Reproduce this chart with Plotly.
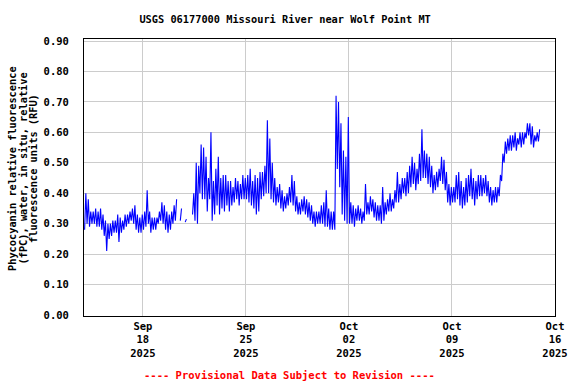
import datetime as dt
import plotly.graph_objects as go

# ---- data: 4-hour bins starting 2025-09-14 00:00, (low, high) per bin, None = no data ----
start = dt.datetime(2025, 9, 14)
bin_hours = 4

lows = [
    # Sep 14
    0.28, 0.30, 0.29, 0.30, 0.30, 0.29,
    # Sep 15
    0.29, 0.28, 0.26, 0.21, 0.25, 0.26,
    # Sep 16
    0.27, 0.27, 0.24, 0.27, 0.28, 0.29,
    # Sep 17
    0.30, 0.31, 0.30, 0.28, 0.27, 0.27,
    # Sep 18
    0.28, 0.29, 0.30, 0.27, 0.28, 0.28,
    # Sep 19
    0.30, 0.31, 0.30, 0.28, 0.27, 0.28,
    # Sep 20
    0.30, 0.31, None, 0.31, None, 0.305,
    # Sep 21
    None, None, 0.33, 0.31, 0.30, 0.40,
    # Sep 22
    0.38, 0.38, 0.34, 0.38, 0.31, 0.33,
    # Sep 23
    0.36, 0.33, 0.35, 0.34, 0.36, 0.34,
    # Sep 24
    0.36, 0.37, 0.38, 0.36, 0.38, 0.38,
    # Sep 25
    0.38, 0.37, 0.36, 0.35, 0.33, 0.34,
    # Sep 26
    0.38, 0.39, 0.40, 0.40, 0.38, 0.37,
    # Sep 27
    0.36, 0.37, 0.35, 0.34, 0.35, 0.36,
    # Sep 28
    0.37, 0.36, 0.34, 0.33, 0.33, 0.34,
    # Sep 29
    0.33, 0.32, 0.31, 0.30, 0.29, 0.30,
    # Sep 30
    0.30, 0.30, 0.29, 0.29, 0.28, 0.28,
    # Oct 01
    0.28, 0.48, 0.42, 0.33, 0.31, 0.30,
    # Oct 02
    0.30, 0.30, 0.29, 0.31, 0.31, 0.30,
    # Oct 03
    0.31, 0.33, 0.33, 0.34, 0.32, 0.31,
    # Oct 04
    0.31, 0.30, 0.31, 0.33, 0.34, 0.34,
    # Oct 05
    0.35, 0.37, 0.37, 0.38, 0.40, 0.39,
    # Oct 06
    0.40, 0.42, 0.43, 0.41, 0.43, 0.44,
    # Oct 07
    0.45, 0.45, 0.43, 0.42, 0.40, 0.41,
    # Oct 08
    0.42, 0.44, 0.43, 0.41, 0.37, 0.36,
    # Oct 09
    0.37, 0.37, 0.38, 0.36, 0.35, 0.36,
    # Oct 10
    0.37, 0.39, 0.38, 0.36, 0.38, 0.39,
    # Oct 11
    0.39, 0.40, 0.39, 0.37, 0.36, 0.37,
    # Oct 12
    0.37, 0.39, 0.44, 0.50, 0.53, 0.54,
    # Oct 13
    0.54, 0.55, 0.54, 0.56, 0.55, 0.56,
    # Oct 14
    0.58, 0.59, 0.56, 0.55, 0.57, 0.57,
]

highs = [
    # Sep 14
    0.40, 0.38, 0.34, 0.34, 0.35, 0.34,
    # Sep 15
    0.35, 0.33, 0.31, 0.30, 0.30, 0.31,
    # Sep 16
    0.31, 0.33, 0.32, 0.31, 0.33, 0.33,
    # Sep 17
    0.34, 0.35, 0.36, 0.33, 0.32, 0.33,
    # Sep 18
    0.34, 0.41, 0.34, 0.32, 0.32, 0.32,
    # Sep 19
    0.34, 0.37, 0.36, 0.34, 0.33, 0.34,
    # Sep 20
    0.36, 0.38, None, 0.35, None, 0.315,
    # Sep 21
    None, None, 0.40, 0.50, 0.49, 0.56,
    # Sep 22
    0.55, 0.52, 0.45, 0.60, 0.44, 0.48,
    # Sep 23
    0.52, 0.45, 0.46, 0.46, 0.44, 0.44,
    # Sep 24
    0.42, 0.45, 0.44, 0.43, 0.46, 0.45,
    # Sep 25
    0.46, 0.48, 0.44, 0.46, 0.45, 0.47,
    # Sep 26
    0.47, 0.49, 0.64, 0.58, 0.50, 0.45,
    # Sep 27
    0.42, 0.43, 0.41, 0.39, 0.40, 0.42,
    # Sep 28
    0.46, 0.44, 0.39, 0.37, 0.38, 0.39,
    # Sep 29
    0.38, 0.37, 0.36, 0.34, 0.34, 0.34,
    # Sep 30
    0.36, 0.37, 0.41, 0.35, 0.34, 0.34,
    # Oct 01
    0.72, 0.70, 0.63, 0.54, 0.52, 0.65,
    # Oct 02
    0.37, 0.36, 0.35, 0.36, 0.35, 0.34,
    # Oct 03
    0.43, 0.37, 0.39, 0.38, 0.37, 0.36,
    # Oct 04
    0.36, 0.42, 0.37, 0.38, 0.40, 0.38,
    # Oct 05
    0.41, 0.47, 0.43, 0.45, 0.45, 0.47,
    # Oct 06
    0.49, 0.52, 0.50, 0.48, 0.53, 0.61,
    # Oct 07
    0.54, 0.53, 0.52, 0.49, 0.46, 0.47,
    # Oct 08
    0.48, 0.52, 0.51, 0.47, 0.43, 0.42,
    # Oct 09
    0.42, 0.46, 0.47, 0.44, 0.42, 0.45,
    # Oct 10
    0.46, 0.48, 0.45, 0.44, 0.46, 0.46,
    # Oct 11
    0.45, 0.46, 0.44, 0.42, 0.41, 0.42,
    # Oct 12
    0.42, 0.46, 0.53, 0.57, 0.58, 0.59,
    # Oct 13
    0.59, 0.60, 0.58, 0.60, 0.60, 0.60,
    # Oct 14
    0.63, 0.63, 0.62, 0.59, 0.60, 0.61,
]

tick_dates = ["2025-09-18", "2025-09-25", "2025-10-02", "2025-10-09", "2025-10-16"]
tick_text = ["Sep<br>18<br>2025", "Sep<br>25<br>2025", "Oct<br>02<br>2025",
             "Oct<br>09<br>2025", "Oct<br>16<br>2025"]
y_ticks = [0.0, 0.1, 0.2, 0.3, 0.4, 0.5, 0.6, 0.7, 0.8, 0.9]
y_labels = ["0.00", "0.10", "0.20", "0.30", "0.40", "0.50", "0.60", "0.70", "0.80", "0.90"]

title = "USGS 06177000 Missouri River near Wolf Point MT"
ytitle_lines = ["Phycocyanin relative fluorescence",
                "(fPC), water, in situ, relative",
                "fluorescence units (RFU)"]
footer = "---- Provisional Data Subject to Revision ----"

# ---- build the zig-zag series (low/high within each bin) ----
xs, ys = [], []
for i, (lo, hi) in enumerate(zip(lows, highs)):
    t0 = start + dt.timedelta(hours=i * bin_hours)
    if lo is None:
        xs.append(t0 + dt.timedelta(hours=2))
        ys.append(None)
    else:
        xs.append(t0 + dt.timedelta(hours=1))
        ys.append(lo)
        xs.append(t0 + dt.timedelta(hours=3))
        ys.append(hi)

FONT = "DejaVu Sans Mono"
W, H = 576, 384
L, R, T, B = 84, 21, 39, 68
pw, ph = W - L - R, H - T - B

fig = go.Figure(go.Scatter(x=xs, y=ys, mode="lines", connectgaps=False,
                           line=dict(color="#0000ff", width=1.1), hoverinfo="skip"))

axis_common = dict(showgrid=True, gridcolor="#cccccc", gridwidth=1, showline=True,
                   linecolor="black", linewidth=1, mirror=True, ticks="", zeroline=False,
                   automargin=False,
                   tickfont=dict(family=FONT, size=10.5, color="black", weight="bold"))

fig.update_layout(
    width=W, height=H, margin=dict(l=L, r=R, t=T, b=B, pad=0, autoexpand=False),
    paper_bgcolor="white", plot_bgcolor="white", showlegend=False,
    title=dict(text=title, x=0.495, xref="container", xanchor="center",
               y=1 - 19 / H, yref="container", yanchor="middle", automargin=False,
               font=dict(family=FONT, size=10.3, color="black", weight="bold")),
    xaxis=dict(range=["2025-09-14 00:00", "2025-10-16 00:00"], tickvals=tick_dates,
               ticktext=tick_text, tickangle=0, ticklabelstandoff=0, **axis_common),
    yaxis=dict(range=[-0.0033, 0.9066], tickvals=y_ticks, ticktext=y_labels,
               ticklabelstandoff=12, **axis_common),
)

for px, line in zip([12, 22.5, 33], ytitle_lines):
    fig.add_annotation(text=line, textangle=-90, xref="paper", yref="paper",
                       x=(px - L) / pw, y=(H - B - 169) / ph, xanchor="center", yanchor="middle",
                       showarrow=False,
                       font=dict(family=FONT, size=10.3, color="black", weight="bold"))

fig.add_annotation(text=footer, xref="paper", yref="paper", x=(289 - L) / pw,
                   y=(H - B - 375) / ph, xanchor="center", yanchor="middle", showarrow=False,
                   font=dict(family=FONT, size=10.5, color="#ff0000", weight="bold"))

fig.write_html("out.html", config={"displayModeBar": False},
               post_script="document.body.style.margin='0';")
